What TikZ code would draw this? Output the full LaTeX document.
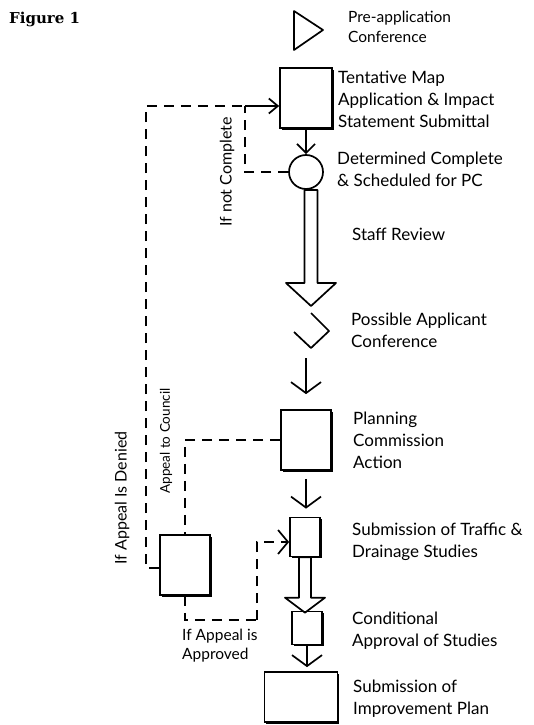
\documentclass[tikz,border=0pt]{standalone}
\usepackage{fontspec}
\setmainfont{Lato}
\newfontfamily\figfont{DejaVu Serif}
\usepackage{tikz}
\usetikzlibrary{shadows}
\usetikzlibrary{positioning}
\usetikzlibrary{arrows.meta,shapes}
\usetikzlibrary{calc}

\newcommand{\hollowdown}[5]{%
\draw[hollowline] let \p1=(#1), \p2=(#2) in
  (\x1-#3,\y1) -- (\x1-#3,\y2+#5) -- (\x1-#4,\y2+#5) -- (\x1,\y2)
  -- (\x1+#4,\y2+#5) -- (\x1+#3,\y2+#5) -- (\x1+#3,\y1) -- cycle;}

\begin{document}
\begin{tikzpicture}[x=1pt, y=-1pt,
  sketchbox/.style={draw, line width=1.7pt, fill=white, inner sep=0pt,
    drop shadow={shadow xshift=1.8pt, shadow yshift=-1.8pt, opacity=1, fill=black}},
  stepcircle/.style={circle, draw, line width=1.7pt, inner sep=0pt, minimum size=34pt},
  desc/.style={anchor=north west, align=left, inner sep=0pt, font=\fontsize{17}{22}\selectfont},
  smalldesc/.style={anchor=north west, align=left, inner sep=0pt, font=\fontsize{15.5}{20}\selectfont},
  sidelabel/.style={rotate=90, inner sep=0pt, font=\fontsize{16}{18}\selectfont},
  flowarrow/.style={line width=1.7pt, -{Straight Barb[length=11pt, width=30pt, line width=1.7pt]}},
  smallarrow/.style={line width=1.7pt, -{Straight Barb[length=9pt, width=18pt, line width=1.7pt]}},
  backloop/.style={line width=1.7pt, dash pattern=on 10pt off 7pt},
  hollowline/.style={line width=1.7pt, line join=round}]
\useasboundingbox (0,0) rectangle (533,725);

\node[anchor=north west, inner sep=0pt, font=\figfont\bfseries\fontsize{15}{18}\selectfont] (title) at (9,12) {Figure 1};

\draw[line width=1.7pt, line join=round] (294,11) -- (323,30) -- (294,50) -- cycle;
\node[smalldesc] (preapptext) at (348,11) {Pre-application\\Conference};

\node[sketchbox, minimum width=52pt, minimum height=60pt] (tentmap) at (306,98) {};
\node[desc] (tentmaptext) at (338,71) {Tentative Map\\Application \& Impact\\Statement Submittal};

\node[stepcircle] (complete) at (306,172) {};
\node[desc] (completetext) at (337,152) {Determined Complete\\\& Scheduled for PC};

\coordinate (srtop) at (311,190);
\coordinate (srtip) at (311,306);
\node[desc] (reviewtext) at (352,228) {Staff Review};

\coordinate (possible) at (311,331);
\coordinate (possiblebottom) at (306,358);
\node[desc] (possibletext) at (351,313) {Possible Applicant\\Conference};

\node[sketchbox, minimum width=50pt, minimum height=60pt] (planning) at (306,440) {};
\node[desc] (planningtext) at (353,412) {Planning\\Commission\\Action};

\node[sketchbox, minimum width=30pt, minimum height=39pt] (traffic) at (305,537) {};
\node[desc] (traffictext) at (352,523) {Submission of Traffic \&\\Drainage Studies};

\node[sketchbox, minimum width=30pt, minimum height=33pt] (conditional) at (307,628) {};
\node[desc] (conditionaltext) at (352,612) {Conditional\\Approval of Studies};

\node[sketchbox, minimum width=73pt, minimum height=50pt] (improvement) at (301,697) {};
\node[desc] (improvementtext) at (353,680) {Submission of\\Improvement Plan};

\node[sketchbox, minimum width=50pt, minimum height=60pt] (appeal) at (185,565) {};

\draw[smallarrow] (tentmap.south) -- (complete.north);
\hollowdown{srtop}{srtip}{6.5pt}{25pt}{23pt}
\draw[line width=1.7pt, line join=round] ($(possible)+(0,-18)$) -- ++(18,18) -- ++(-18,17) -- ++(-17,-16);
\draw[flowarrow, shorten >=15pt] (possiblebottom) -- (possiblebottom |- planning.north);
\draw[flowarrow, shorten <=8pt, shorten >=8pt] (planning.south) -- (planning.south |- traffic.north);
\hollowdown{traffic.south}{[yshift=-2pt]conditional.north}{6pt}{20pt}{15pt}
\draw[flowarrow, shorten >=4pt] (conditional.south) -- (conditional.south |- improvement.north);

\coordinate (ncorner) at (245,106);
\coordinate (dhigh) at (146,106);
\coordinate (acorner) at (257,620);
\draw[backloop] (complete.west) -| (ncorner);
\draw[line width=1.7pt, -{Straight Barb[length=9pt, width=15pt, line width=1.7pt]}] (ncorner) -- ([yshift=-8pt]tentmap.west);
\draw[backloop] ([yshift=-3pt]appeal.west) -| (dhigh) -- (ncorner);
\draw[backloop] (planning.west) -| (appeal.north);
\draw[backloop] (appeal.south) |- (acorner);
\draw[line width=1.7pt, dash pattern=on 10pt off 7pt, -{Straight Barb[length=10pt, width=24pt, line width=1.7pt]}] (acorner) |- ([yshift=-5pt]traffic.west);

\node[sidelabel] (notcomplete) at (227,172) {If not Complete};
\node[sidelabel, font=\fontsize{13.5}{16}\selectfont] (council) at (166,441) {Appeal to Council};
\node[sidelabel] (denied) at (122,498) {If Appeal Is Denied};
\node[anchor=north west, align=left, inner sep=0pt, font=\fontsize{15.5}{19}\selectfont] (approved) at (182,629) {If Appeal is\\Approved};
\end{tikzpicture}
\end{document}
